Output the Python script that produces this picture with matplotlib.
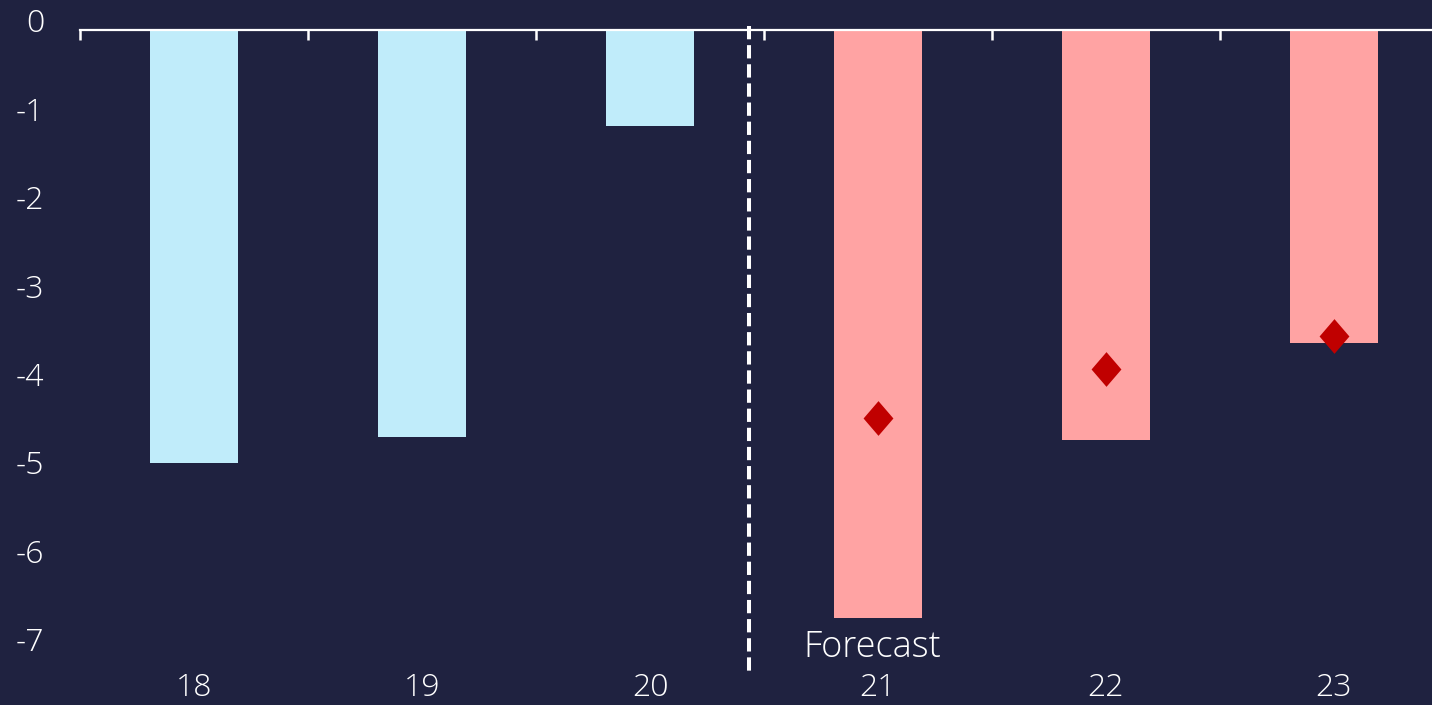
import matplotlib.pyplot as plt
import matplotlib.transforms as mtransforms
from matplotlib.path import Path
from matplotlib.ticker import FixedLocator

plt.rcParams['font.family'] = ['Open Sans', 'DejaVu Sans']
plt.rcParams['font.weight'] = 'light'
plt.rcParams['axes.unicode_minus'] = False

# Balance by year (actual and forecast) plus the alternative forecast points
years = ['18', '19', '20', '21', '22', '23']
balance = [-4.90, -4.61, -1.09, -6.66, -4.64, -3.54]
is_forecast = [False, False, False, True, True, True]
alt_years = ['21', '22', '23']
alt_balance = [-4.39, -3.84, -3.46]
y_ticks = [0, -1, -2, -3, -4, -5, -6, -7]

BG = '#1f2240'
ACTUAL = '#c0ecfa'
FORECAST = '#ffa3a3'
DIAMOND = '#c00000'

fig = plt.figure(figsize=(14.32, 7.05), dpi=100, facecolor=BG)
ax = fig.add_axes([0.05587, 0.04255, 0.9553, 0.9149])
ax.set_facecolor(BG)

x = list(range(len(years)))
colors = [FORECAST if f else ACTUAL for f in is_forecast]
ax.bar(x, balance, width=0.385, color=colors, zorder=2)

# slightly taller-than-wide diamond
diamond = Path([(0, 1), (0.86, 0), (0, -1), (-0.86, 0), (0, 1)],
               [Path.MOVETO, Path.LINETO, Path.LINETO, Path.LINETO, Path.CLOSEPOLY])
alt_x = [years.index(y) for y in alt_years]
ax.plot(alt_x, alt_balance, linestyle='none', marker=diamond, markersize=25,
        color=DIAMOND, markeredgewidth=0, zorder=3)

# actual / forecast divider
split = 2.434
ax.plot([split, split], [0.04, -7.3], color='white', lw=2.9,
        dashes=(3.3, 1.45), clip_on=False, zorder=4)
ax.text(2.975, -7.10, 'Forecast', color='white', fontsize=26,
        ha='center', va='baseline', zorder=4)

ax.set_xlim(-0.5, 5.5)
ax.set_ylim(-7.3, 0)

for side in ['left', 'right', 'bottom']:
    ax.spines[side].set_visible(False)
ax.spines['top'].set_color('white')
ax.spines['top'].set_linewidth(1.6)
ax.spines['top'].set_zorder(5)

# category labels at the bottom, tick marks on the top line
ax.set_xticks(x)
ax.set_xticklabels(years)
ax.xaxis.set_minor_locator(FixedLocator([i - 0.5 for i in range(len(years) + 1)]))
ax.tick_params(axis='x', which='both', bottom=False, top=True,
               labelbottom=True, labeltop=False, direction='in',
               color='white', width=1.8, labelcolor='white', labelsize=23, pad=-2)
ax.tick_params(axis='x', which='major', length=4.3)
ax.tick_params(axis='x', which='minor', length=7.2)

# value labels on the left, set a little above their levels
ax.set_yticks([])
label_tf = mtransforms.blended_transform_factory(ax.transAxes, ax.transData) + \
    mtransforms.ScaledTranslation(0, 4 / 72, fig.dpi_scale_trans)
for v in y_ticks:
    ax.text(-0.0263, v, str(v), transform=label_tf, color='white', fontsize=23,
            ha='right', va='center', clip_on=False)

fig.savefig('out.png', dpi=100, facecolor=BG)
